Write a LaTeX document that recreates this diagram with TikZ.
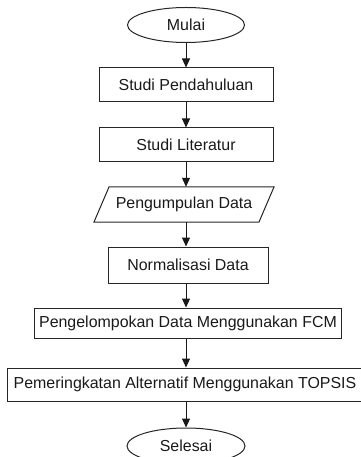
\documentclass[tikz,border=0pt]{standalone}
\usepackage{fontspec}
\setmainfont{Liberation Sans}
\usetikzlibrary{arrows.meta,shapes.geometric}
\begin{document}
\begin{tikzpicture}[x=1bp,y=-1bp,
  every node/.style={font=\fontsize{16}{18}\selectfont, inner sep=0pt, text=black!90},
  procbox/.style={draw=black!85, line width=1bp, rectangle, minimum height=#1},
  procbox/.default=34bp,
  termnode/.style={draw=black!85, line width=1bp, ellipse, minimum width=117bp, minimum height=35bp},
  flow/.style={draw=black!90, line width=1bp, -{Triangle[width=8bp,length=9bp]}}]
\useasboundingbox (0,0) rectangle (360,457);
\node[termnode] (mulai) at (186,25) {Mulai};
\node[procbox, minimum width=174bp] (sp) at (186,85) {Studi Pendahuluan};
\node[procbox, minimum width=174bp] (sl) at (186,145) {Studi Literatur};
\node[minimum width=150bp, minimum height=35bp] (pd) at (184,204.5) {Pengumpulan Data};
\draw[black!85, line width=1bp] (109,187) -- (274,187) -- (259,222) -- (94,222) -- cycle;
\node[procbox=36bp, minimum width=160bp] (nd) at (188,265) {Normalisasi Data};
\node[procbox=30bp, minimum width=307bp] (fcm) at (188,323) {Pengelompokan Data Menggunakan FCM};
\node[procbox=33bp, minimum width=354bp] (tp) at (185,384.5) {Pemeringkatan Alternatif Menggunakan TOPSIS};
\node[termnode, minimum width=118bp, minimum height=36bp] (sel) at (186,446) {Selesai};
\draw[flow] (mulai.south) -- (sp.north);
\draw[flow] (sp.south) -- (sl.north);
\draw[flow] (sl.south) -- (sl.south |- pd.north);
\draw[flow] (sl.south |- pd.south) -- (sl.south |- nd.north);
\draw[flow] (sl.south |- nd.south) -- (sl.south |- fcm.north);
\draw[flow] (sl.south |- fcm.south) -- (sl.south |- tp.north);
\draw[flow] (sl.south |- tp.south) -- (sel.north);
\end{tikzpicture}
\end{document}
